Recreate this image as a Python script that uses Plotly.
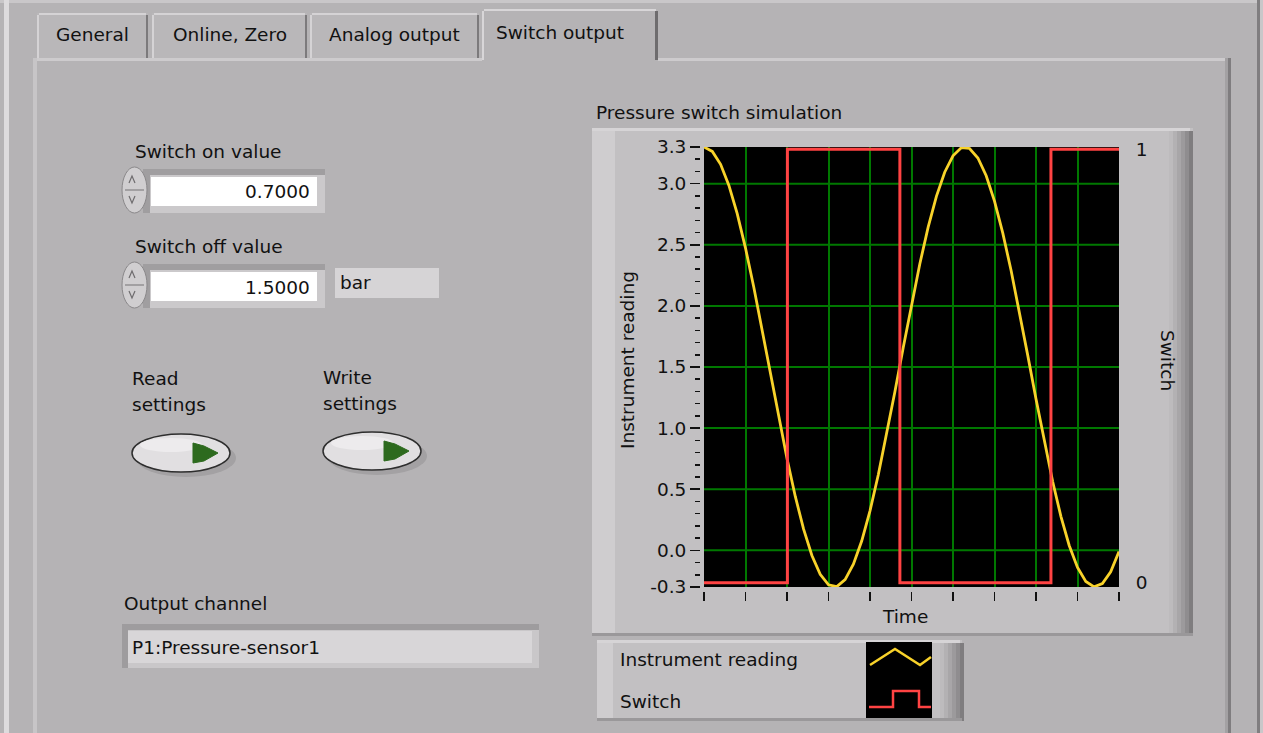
import plotly.graph_objects as go

W, H = 1263, 733
FONT = "DejaVu Sans"
FS = 18.5

# ---------------- data ----------------
time_values = [0.0, 0.2, 0.4, 0.6, 0.8, 1.0, 1.2, 1.4, 1.6, 1.8,
               2.0, 2.2, 2.4, 2.6, 2.8, 3.0, 3.2, 3.4, 3.6, 3.8,
               4.0, 4.2, 4.4, 4.6, 4.8, 5.0, 5.2, 5.4, 5.6, 5.8,
               6.0, 6.2, 6.4, 6.6, 6.8, 7.0, 7.2, 7.4, 7.6, 7.8,
               8.0, 8.2, 8.4, 8.6, 8.8, 9.0, 9.2, 9.4, 9.6, 9.8, 10.0]
instrument_reading = [3.300, 3.264, 3.158, 2.986, 2.754, 2.473, 2.152, 1.806, 1.447, 1.091,
                      0.751, 0.441, 0.173, -0.042, -0.196, -0.282, -0.297, -0.240, -0.114, 0.076,
                      0.323, 0.618, 0.947, 1.298, 1.658, 2.011, 2.343, 2.642, 2.896, 3.094,
                      3.228, 3.294, 3.288, 3.210, 3.065, 2.857, 2.595, 2.289, 1.952, 1.597,
                      1.238, 0.890, 0.565, 0.278, 0.040, -0.140, -0.255, -0.299, -0.272, -0.175, -0.010]
switch_times = [0.0, 2.01, 4.72, 8.36, 10.0]
switch_state = [0, 1, 0, 1, 1]

y_tick_values = [-0.3, 0.0, 0.5, 1.0, 1.5, 2.0, 2.5, 3.0, 3.3]
y_tick_labels = ["-0.3", "0.0", "0.5", "1.0", "1.5", "2.0", "2.5", "3.0", "3.3"]
y_grid_values = [0.0, 0.5, 1.0, 1.5, 2.0, 2.5, 3.0]
x_tick_values = [1, 2, 3, 4, 5, 6, 7, 8, 9]
x_end_ticks = [0, 10]
switch_tick_values = [0, 1]
switch_tick_labels = ["0", "1"]

tab_labels = ["General", "Online, Zero", "Analog output", "Switch output"]
switch_on_value = "0.7000"
switch_off_value = "1.5000"
unit_label = "bar"
output_channel = "P1:Pressure-sensor1"

YELLOW = "#F8D22A"
RED = "#FF4343"
GRID = "#007800"
BG = "#B5B3B5"

# ---------------- helpers ----------------
shapes = []
annotations = []


def fx(x):
    return x / W


def fy(y):
    return 1 - y / H


def R(x0, y0, x1, y1, fill, lc=None, lw=0):
    shapes.append(dict(type="rect", xref="paper", yref="paper",
                       x0=fx(x0), x1=fx(x1), y0=fy(y1), y1=fy(y0),
                       fillcolor=fill, line=dict(color=lc or fill, width=lw),
                       layer="below"))


def E(x0, y0, x1, y1, fill, lc=None, lw=0):
    shapes.append(dict(type="circle", xref="paper", yref="paper",
                       x0=fx(x0), x1=fx(x1), y0=fy(y1), y1=fy(y0),
                       fillcolor=fill, line=dict(color=lc or fill, width=lw),
                       layer="below"))


def P(pts, lc, lw=1, fill=None, closed=False):
    d = "M " + " L ".join(f"{fx(x):.5f},{fy(y):.5f}" for x, y in pts)
    if closed:
        d += " Z"
    s = dict(type="path", xref="paper", yref="paper", path=d,
             line=dict(color=lc, width=lw), layer="below")
    if fill:
        s["fillcolor"] = fill
    shapes.append(s)


def T(x, y, text, anchor="left", angle=0, size=FS, color="#111111"):
    if anchor == "left":
        x -= 2
    annotations.append(dict(x=fx(x), y=fy(y), xref="paper", yref="paper",
                            text=text, showarrow=False, xanchor=anchor,
                            yanchor="middle", textangle=angle,
                            font=dict(family=FONT, size=size, color=color)))


# ---------------- window / panel ----------------
R(0, 0, W, 3, "#C9C7C9")
R(4, 0, 9, H, "#DDDBDD")
R(1257, 0, 1260, H, "#807E80")
R(1260, 0, W, H, "#C9C7C9")

# panel body
R(33, 58, 1231, H, BG)
R(33, 58, 482, 61, "#CDCBCD")
R(658, 58, 1228, 61, "#CDCBCD")
R(33, 58, 37, H, "#C7C5C7")
R(1225, 58, 1228, H, "#A3A1A3")
R(1228, 58, 1231, H, "#7F7D7F")

# tabs
tab_x = [(37, 148), (152, 307), (310, 479)]
for (a, b), lab in zip(tab_x, tab_labels[:3]):
    R(a, 13, b, 58, "#B9B7B9")
    R(a + 2, 13, b - 2, 15, "#D5D3D5")
    R(a, 15, a + 2, 58, "#D5D3D5")
    R(b - 2, 15, b, 58, "#7C7A7C")
    T((a + b) / 2, 34, lab, anchor="center")
R(482, 9, 658, 62, BG)
R(484, 9, 656, 11, "#D8D6D8")
R(482, 11, 484, 60, "#D8D6D8")
R(655, 11, 658, 60, "#6E6C6E")
T(560, 33, tab_labels[3], anchor="center")

# ---------------- graph frame ----------------
T(596, 112, "Pressure switch simulation")
R(592, 128, 1193, 636, "#C2C0C2")
R(592, 128, 1190, 131, "#D6D4D6")
R(592, 131, 615, 633, "#CFCDCF")
shade = ["#BDBBBD", "#B3B1B3", "#A8A6A8", "#9C9A9C", "#8F8D8F", "#7F7D7F"]
for i, c in enumerate(shade):
    R(1169 + i * 4, 131, 1173 + i * 4, 636, c)
R(592, 633, 1193, 636, "#9A989A")
R(704, 147, 1119, 587, "#000000")
for gv in y_grid_values:
    shapes.append(dict(type="line", xref="x domain", yref="y", x0=0, x1=1,
                       y0=gv, y1=gv, line=dict(color=GRID, width=2),
                       layer="below"))

T(627, 360, "Instrument reading", anchor="center", angle=-90)
T(1168, 360, "Switch", anchor="center", angle=90)
T(905, 616, "Time", anchor="center")

# ---------------- legend box ----------------
R(597, 640, 962, 721, "#C2C0C2")
R(597, 640, 960, 643, "#D6D4D6")
R(597, 643, 613, 718, "#CFCDCF")
for i, c in enumerate(shade):
    R(940 + i * 4, 643, 944 + i * 4, 721, c)
R(597, 718, 962, 721, "#9A989A")
R(866, 642, 932, 718, "#000000")
P([(870, 665), (895, 649), (920, 665), (931, 657)], YELLOW, 2.5)
P([(869, 707), (893, 707), (893, 691), (919, 691), (919, 707), (931, 707)], RED, 2.5)
T(620, 659, "Instrument reading")
T(620, 701, "Switch")

# ---------------- numeric controls ----------------
def numeric(y0, label, value, label_y):
    T(135, label_y, label)
    R(143, y0 + 2, 325, y0 + 46, "#CBC9CB")
    R(143, y0 + 2, 325, y0 + 8, "#A09EA0")
    R(143, y0 + 2, 150, y0 + 46, "#A09EA0")
    R(151, y0 + 10, 317, y0 + 39, "#FFFFFF")
    E(122, y0, 147, y0 + 46, "#D0CED0", "#8A888A", 1)
    R(125, y0 + 22, 144, y0 + 24, "#A2A0A2")
    P([(129, y0 + 16), (132, y0 + 9), (135, y0 + 16)], "#6E6C6E", 1.2)
    P([(129, y0 + 29), (132, y0 + 36), (135, y0 + 29)], "#6E6C6E", 1.2)
    T(312, y0 + 25, value, anchor="right")


numeric(167, "Switch on value", switch_on_value, 151)
numeric(262, "Switch off value", switch_off_value, 247)
R(335, 268, 439, 298, "#D6D4D6")
T(340, 283, unit_label)

# ---------------- buttons ----------------
def button(x0, y0, l1, l2, ty):
    T(x0, ty, l1)
    T(x0, ty + 26, l2)
    E(x0 + 4, y0 + 5, x0 + 104, y0 + 43, "#A3A1A3")
    E(x0, y0, x0 + 98, y0 + 38, "#E1DFE1", "#2E2E2E", 1.5)
    E(x0 + 8, y0 + 4, x0 + 70, y0 + 18, "#EDEBED")
    P([(x0 + 61, y0 + 9), (x0 + 72, y0 + 12), (x0 + 86, y0 + 19),
       (x0 + 72, y0 + 27), (x0 + 61, y0 + 29)], "#2D6A1E", 1, fill="#2D6A1E", closed=True)


button(132, 434, "Read", "settings", 378)
button(323, 432, "Write", "settings", 377)

# ---------------- output channel ----------------
T(124, 603, "Output channel")
R(122, 624, 539, 668, "#C9C7C9")
R(122, 624, 539, 630, "#9E9C9E")
R(122, 624, 128, 668, "#9E9C9E")
R(128, 631, 532, 663, "#D8D6D8")
T(132, 647, output_channel)

# ---------------- traces ----------------
fig = go.Figure()
fig.add_trace(go.Scatter(x=switch_times, y=switch_state, mode="lines",
                         line=dict(color=RED, width=3, shape="hv"),
                         yaxis="y2", name="Switch", hoverinfo="skip"))
fig.add_trace(go.Scatter(x=time_values, y=instrument_reading, mode="lines",
                         line=dict(color=YELLOW, width=2.8),
                         name="Instrument reading", hoverinfo="skip"))

tickfont = dict(family=FONT, size=FS, color="#111111")
fig.update_layout(
    width=W, height=H,
    margin=dict(l=0, r=0, t=0, b=0, pad=0, autoexpand=False),
    paper_bgcolor=BG, plot_bgcolor="#000000", showlegend=False,
    hovermode=False,
    xaxis=dict(domain=[fx(704), fx(1119)], range=[0, 10], anchor="free",
               position=fy(591), tickmode="array", tickvals=x_tick_values,
               showticklabels=False, ticks="outside", ticklen=9, tickwidth=1.5,
               tickcolor="#111111", showgrid=True, gridcolor=GRID, gridwidth=2,
               zeroline=False, showline=False, fixedrange=True, automargin=False,
               minor=dict(tickmode="array", tickvals=x_end_ticks, ticks="outside",
                          ticklen=9, tickwidth=1.5, tickcolor="#111111", showgrid=False)),
    yaxis=dict(domain=[fy(587), fy(147)], range=[-0.3, 3.3], anchor="free",
               position=fx(700), tickmode="array", tickvals=y_tick_values,
               ticktext=y_tick_labels, ticks="outside", ticklen=10, tickwidth=1.5,
               tickcolor="#111111", tickfont=tickfont, showgrid=False,
               zeroline=False, showline=False, fixedrange=True, automargin=False,
               minor=dict(tick0=0, dtick=0.1, ticks="outside", ticklen=5,
                          tickwidth=1.5, tickcolor="#111111", showgrid=False)),
    yaxis2=dict(overlaying="y", side="right", range=[-0.01, 1.005],
                tickmode="array", tickvals=switch_tick_values,
                ticktext=switch_tick_labels, ticks="outside", ticklen=12,
                tickcolor="rgba(0,0,0,0)", tickfont=tickfont, showgrid=False,
                zeroline=False, showline=False, fixedrange=True, automargin=False),
    shapes=shapes, annotations=annotations,
)

fig.write_html("out.html", config=dict(displayModeBar=False, staticPlot=True),
               post_script="document.body.style.margin='0';document.body.style.overflow='hidden';")
